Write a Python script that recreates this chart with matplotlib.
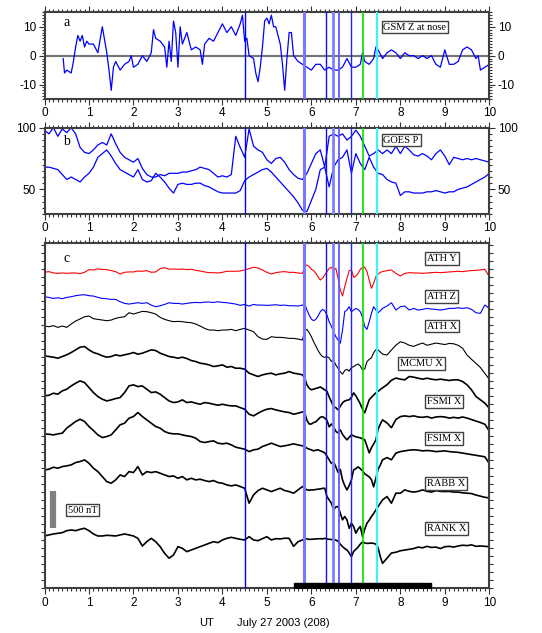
import numpy as np
import matplotlib
matplotlib.use("Agg")
import matplotlib.pyplot as plt
from matplotlib.ticker import MultipleLocator

plt.rcParams['font.family'] = ['Liberation Sans', 'DejaVu Sans']
plt.rcParams['axes.unicode_minus'] = False
SERIF = 'Liberation Serif'

# ---------------- panel a : GSM Z at nose
t_imf = [0.42, 0.45, 0.5, 0.6, 0.65, 0.7, 0.75, 0.8, 0.85, 0.9, 0.95, 1.0, 1.1, 1.2, 1.3, 1.4, 1.45,
         1.5, 1.55, 1.6, 1.7, 1.8, 1.9, 1.95, 2.0, 2.1, 2.2, 2.3, 2.4, 2.45, 2.5, 2.6, 2.7, 2.75,
         2.8, 2.85, 2.9, 2.95, 3.0, 3.05, 3.1, 3.2, 3.3, 3.4, 3.5, 3.55, 3.6, 3.7, 3.8, 3.9, 4.0,
         4.1, 4.2, 4.3, 4.4, 4.45, 4.5, 4.55, 4.6, 4.7, 4.75, 4.8, 4.85, 4.9, 4.95, 5.0, 5.05, 5.1,
         5.15, 5.2, 5.3, 5.35, 5.4, 5.45, 5.5, 5.55, 5.6, 5.7, 5.8, 5.9, 6.0, 6.1, 6.2, 6.3, 6.4,
         6.5, 6.6, 6.7, 6.8, 6.9, 7.0, 7.1, 7.15, 7.2, 7.3, 7.4, 7.45, 7.5, 7.6, 7.7, 7.8, 7.9,
         8.0, 8.1, 8.2, 8.3, 8.4, 8.5, 8.6, 8.7, 8.8, 8.9, 9.0, 9.1, 9.2, 9.3, 9.4, 9.5, 9.6,
         9.7, 9.75, 9.8, 9.9, 10.0]
bz_imf = [-1, -6, -5, -6, -2, 3, 7, 5, 7, 3, 5, 4, 4, 1, 10, 1, -5,
          -12, -4, -2, -5, -3, -2, 0, -4, -3, 0, -2, 1, 9, 6, 5, 3, -4,
          5, -2, 12, 8, -4, 10, 4, 8, 2, 3, 2, -3, 4, 6, 5, 8, 11,
          8, 10, 7, 11, 14, 5, 6, 0, -1, -6, -9, -4, 3, 12, 13, 11, 14,
          10, 10, 4, -3, -12, -1, 8, 8, 0, -2, -3, -4, -5, -3, -3, -5, -4,
          -5, -5, -4, -1, -4, -4, -3, 1, -2, -3, -1, 3, 2, -1, 1, 2, 1,
          -1, 1, 0, 0, -1, 0, -1, 0, -3, -4, 2, -3, -3, -2, 2, 3, 2,
          -1, 0, -5, -4, -3]

# ---------------- panel b : GOES P (two spacecraft)
t_goes = np.linspace(0, 10, 101)
goes_p1 = [98, 95, 100, 93, 99, 96, 100, 95, 84, 80,
           79, 82, 86, 88, 86, 95, 87, 80, 76, 74,
           72, 75, 67, 62, 60, 60, 62, 61, 63, 63,
           63, 64, 64, 65, 66, 68, 67, 66, 63, 60,
           61, 60, 62, 93, 84, 76, 99, 85, 82, 80,
           74, 71, 75, 76, 72, 66, 62, 59, 58, 63,
           71, 79, 82, 68, 93, 95, 93, 95, 90, 93,
           98, 93, 85, 77, 79, 82, 79, 82, 79, 85,
           79, 85, 82, 78, 77, 79, 77, 74, 79, 82,
           77, 70, 76, 75, 74, 75, 74, 75, 74, 73, 72]
goes_p2 = [68, 68, 67, 66, 62, 58, 60, 58, 56, 60,
           63, 68, 76, 79, 82, 77, 71, 66, 64, 62,
           60, 66, 58, 56, 57, 63, 60, 56, 51, 47,
           54, 55, 54, 54, 55, 55, 53, 52, 50, 48,
           47, 47, 47, 47, 49, 57, 60, 62, 64, 66,
           67, 64, 60, 56, 52, 48, 44, 39, 33, 32,
           41, 50, 66, 68, 52, 68, 74, 76, 82, 63,
           79, 71, 66, 76, 68, 63, 62, 58, 56, 55,
           45, 48, 48, 47, 47, 47, 48, 48, 49, 48,
           47, 48, 48, 50, 51, 52, 54, 56, 58, 60, 63]

# ---------------- panel c : ground magnetometers (deviation, nT)
t_mag = np.concatenate([np.linspace(0, 5.8, 59), np.linspace(5.85, 7.6, 36),
                        np.linspace(7.7, 10.0, 24)])

ath_y = [0, 9, -9, -14, -9, -14, -9, -9, -18, 0,
         36, 32, 45, 40, 36, 23, 9, -23, 0, 5,
         5, 18, 14, 23, 0, 5, 50, 63, 41, 45,
         41, 45, 36, 41, 27, 18, 5, -5, -5, -9,
         0, 14, 14, 14, 18, 32, 50, 68, 59, 32,
         0, -23, -5, 5, 9, 0, 0, -9, -14,
         77, 99, 77, 41, 23, -14, -59, -104, -81, -36,
         9, 54, 68, 23, 54, -81, -239, -320, -194, -81,
         23, 32, -68, -50, -14, 41, 63, 68, 9, -104,
         -216, -149, -59, -23, 0, 9,
         23, 32, -14, -50, -14, -5, -9, -9, -14, -9, -5, 0,
         -5, 0, 5, 9, 14, 9, 18, 23, 27, 32, 41, -59]
ath_z = [0, -9, -23, -14, -27, -9, 0, 14, 23, 27,
         14, 9, -9, -23, -27, -36, -36, -68, -90, -99,
         -90, -81, -90, -81, -113, -135, -122, -104, -81, -90,
         -90, -99, -90, -81, -77, -81, -72, -72, -77, -68,
         -77, -81, -90, -99, -117, -104, -126, -104, -113, -113,
         -117, -113, -108, -117, -113, -122, -122, -126, -113,
         -90, -180, -248, -302, -324, -306, -261, -203, -171, -189,
         -248, -338, -400, -470, -540, -585, -630, -450, -200, -180,
         -135, -203, -180, -158, -171, -203, -279, -405, -441, -338,
         -225, -135, -180, -216, -189, -158,
         -126, -81, -180, -135, -126, -180, -158, -180, -171, -158, -167, -171,
         -180, -171, -158, -158, -149, -158, -149, -171, -216, -225, -113, -158]
ath_x = [0, -9, 5, -18, 0, -18, 27, 68, 95, 126,
         135, 99, 90, 81, 72, 81, 104, 117, 126, 180,
         162, 180, 198, 194, 180, 162, 117, 90, 72, 59,
         63, 59, 50, 45, 27, 0, -32, -54, -54, -63,
         -54, -54, -45, -63, -45, -32, -54, -77, -144, -176,
         -180, -144, -153, -153, -158, -167, -167, -176, -189,
         -63, -45, -90, -144, -212, -270, -330, -380, -414, -423,
         -414, -430, -480, -459, -527, -572, -620, -650, -600, -585,
         -610, -560, -549, -527, -513, -540, -594, -580, -482, -450,
         -430, -360, -320, -324, -350, -380,
         -392, -324, -260, -212, -230, -260, -275, -250, -230, -260, -245, -230,
         -240, -250, -235, -240, -260, -300, -392, -450, -504, -560, -640, -720]
mcmu_x = [0, -9, -18, -32, -9, 14, 45, 81, 117, 126,
          81, 45, 27, 0, -18, -9, 14, 0, 14, 27,
          45, 23, 36, 59, 81, 72, 36, 14, -9, -18,
          -32, -18, -36, -63, -77, -99, -108, -122, -144, -135,
          -122, -153, -144, -167, -167, -180, -234, -257, -279, -257,
          -243, -234, -257, -243, -234, -212, -234, -243, -257,
          -302, -392, -437, -459, -450, -440, -432, -420, -440, -459,
          -480, -554, -620, -689, -700, -729, -680, -635, -610, -600,
          -594, -560, -500, -540, -594, -650, -720, -770, -680, -594,
          -560, -530, -500, -480, -455, -432,
          -390, -330, -300, -315, -324, -279, -288, -302, -315, -302, -315, -324,
          -315, -324, -333, -324, -324, -347, -392, -459, -549, -594, -639, -707]
fsmi_x = [0, 9, 36, 23, 68, 90, 135, 171, 203, 180,
          113, 45, -9, -45, -68, -54, -36, -23, 45, 135,
          149, 126, 135, 90, 45, 54, 23, -23, -68, -90,
          -81, -54, -90, -81, -99, -113, -90, -99, -113, -126,
          -113, -126, -135, -135, -158, -180, -248, -270, -234, -203,
          -180, -171, -189, -203, -216, -225, -248, -234, -216,
          -225, -330, -380, -380, -360, -350, -320, -290, -280, -300,
          -330, -419, -380, -420, -480, -500, -459, -520, -560, -594,
          -560, -527, -540, -554, -560, -567, -580, -594, -680, -770,
          -700, -650, -594, -450, -380, -324,
          -365, -430, -320, -280, -270, -280, -270, -285, -290, -280, -300, -285,
          -280, -285, -300, -290, -300, -285, -300, -320, -340, -360, -383, -473]
fsim_x = [0, -5, -14, 0, 9, 77, 122, 167, 198, 167,
          99, 45, -14, -50, -36, -14, 54, 122, 144, 212,
          234, 288, 234, 189, 144, 99, 77, 32, 9, 0,
          0, -14, -27, -36, -59, -104, -117, -104, -95, -126,
          -135, -126, -149, -180, -194, -207, -239, -216, -207, -171,
          -149, -126, -149, -171, -162, -149, -135, -149, -162,
          -171, -194, -207, -216, -230, -220, -216, -230, -240, -257,
          -300, -351, -400, -380, -446, -520, -480, -622, -700, -757,
          -700, -620, -486, -470, -446, -470, -500, -540, -560, -581,
          -620, -716, -600, -480, -420, -351,
          -320, -351, -260, -240, -230, -220, -215, -220, -230, -225, -230, -240,
          -235, -230, -240, -245, -250, -260, -270, -280, -290, -300, -310, -400]
rabb_x = [0, 9, 36, 23, 45, 54, 68, 99, 113, 135,
          90, 23, -23, -90, -158, -180, -135, -68, -90, -23,
          -36, 45, -68, -23, -36, -23, -45, -68, -90, -81,
          -113, -90, -135, -113, -135, -126, -144, -158, -144, -171,
          -180, -203, -216, -203, -225, -248, -450, -338, -279, -248,
          -270, -293, -270, -248, -279, -293, -315, -270, -225,
          -248, -270, -275, -270, -270, -265, -260, -257, -250, -248,
          -360, -405, -450, -540, -500, -495, -585, -675, -630, -675,
          -790, -720, -765, -855, -800, -765, -900, -800, -720, -680,
          -630, -590, -540, -495, -450, -405,
          -360, -450, -315, -315, -270, -290, -300, -290, -270, -290, -300, -280,
          -290, -293, -290, -300, -300, -310, -315, -320, -340, -355, -370, -380]
rank_x = [0, 14, 27, 36, 45, 72, 81, 72, 90, 104,
          72, 27, 0, 0, 9, 5, 0, 14, 27, 14,
          0, -32, -135, -77, -32, -77, -144, -234, -300, -257,
          -144, -167, -212, -189, -167, -144, -122, -99, -77, -90,
          -54, -32, -18, -32, -45, -54, -9, -54, -63, -36,
          -9, -54, -36, -40, -30, -32, -140, -77, -54,
          -36, -40, -45, -45, -42, -40, -38, -36, -40, -32,
          -40, -45, -48, -45, -55, -72, -110, -144, -170, -189,
          -230, -280, -210, -180, -150, -110, -80, -95, -100, -99,
          -95, -100, -110, -160, -280, -370,
          -300, -230, -220, -200, -190, -180, -170, -150, -160, -140, -155, -150,
          -170, -145, -140, -150, -135, -125, -130, -120, -140, -135, -140, -145]

stations = ['ATH Y', 'ATH Z', 'ATH X', 'MCMU X', 'FSMI X', 'FSIM X', 'RABB X', 'RANK X']
traces = [ath_y, ath_z, ath_x, mcmu_x, fsmi_x, fsim_x, rabb_x, rank_x]
offsets = [4270, 3940, 3544, 3141, 2600, 2087, 1600, 707]
colors = ['red', 'blue', 'black', 'black', 'black', 'black', 'black', 'black']
widths = [0.8, 0.8, 0.8, 1.2, 1.2, 1.2, 1.2, 1.2]
label_x = [8.6, 8.6, 8.6, 8.0, 8.6, 8.6, 8.6, 8.6]
label_y = [4458, 3940, 3544, 3040, 2521, 2027, 1418, 811]

# event lines
event_t = [4.5, 5.84, 6.33, 6.48, 6.62, 6.9, 7.17, 7.47]
event_c = ['#0000ff', '#7878ff', '#1010ff', '#8080ff', '#5a5aff', '#2020ff', '#00e000', '#3ff0ff']
event_w = [1.0, 2.2, 1.0, 2.0, 1.3, 1.0, 1.2, 1.6]

interval = (5.6, 8.7)
scale_nt = 500

fig = plt.figure(figsize=(5.42, 6.33), dpi=100)
W, H = 542.0, 633.0
left, width = 44.5 / W, 444.8 / W
ax_a = fig.add_axes([left, 1 - 99 / H, width, 86.7 / H])
ax_b = fig.add_axes([left, 1 - 214 / H, width, 86.3 / H])
ax_c = fig.add_axes([left, 1 - 588.3 / H, width, 345 / H])

box = dict(boxstyle='square,pad=0.18', fc='white', ec='0.25', lw=1.0)


def style(ax):
    ax.set_xlim(0, 10)
    ax.xaxis.set_major_locator(MultipleLocator(1))
    ax.xaxis.set_minor_locator(MultipleLocator(0.1))
    ax.tick_params(which='both', direction='out', top=True, right=True, width=0.8,
                   labelsize=8.5, pad=2, color='0.2')
    ax.tick_params(which='major', length=4)
    ax.tick_params(which='minor', length=2.5)
    for s in ax.spines.values():
        s.set_linewidth(1.5)
        s.set_color('0.25')
    for t, c, w in zip(event_t, event_c, event_w):
        ax.axvline(t, color=c, lw=w, zorder=3)


# panel a
ax_a.plot(t_imf, bz_imf, color='blue', lw=0.9, zorder=2)
ax_a.axhline(0, color='0.45', lw=1.5, zorder=1)
ax_a.set_ylim(-15, 15)
ax_a.set_yticks([-10, 0, 10])
ax_a.yaxis.set_minor_locator(MultipleLocator(1))
style(ax_a)
ax_a.tick_params(labelright=True)
ax_a.text(0.5, 11.4, 'a', family=SERIF, fontsize=10, va='center', ha='center')
ax_a.text(7.62, 9.9, 'GSM Z at nose', family=SERIF, fontsize=7.5, va='center', bbox=box, zorder=5)

# panel b
ax_b.plot(t_goes, goes_p1, color='blue', lw=0.9, zorder=2)
ax_b.plot(t_goes, goes_p2, color='blue', lw=0.9, zorder=2)
ax_b.set_ylim(30, 100)
ax_b.set_yticks([50, 100])
ax_b.yaxis.set_minor_locator(MultipleLocator(5))
style(ax_b)
ax_b.tick_params(labelright=True)
ax_b.text(0.5, 88.6, 'b', family=SERIF, fontsize=10, va='center', ha='center')
ax_b.text(7.62, 90, 'GOES P', family=SERIF, fontsize=7.5, va='center', bbox=box, zorder=5)

# panel c
for name, dev, off, c, w, lx, ly in zip(stations, traces, offsets, colors, widths, label_x, label_y):
    ax_c.plot(t_mag, off + np.array(dev), color=c, lw=w, zorder=2)
    ax_c.text(lx, ly, name, family=SERIF, fontsize=7.5, va='center', bbox=box, zorder=5)
ax_c.set_ylim(0, 4662)
ax_c.set_yticks([])
ax_c.yaxis.set_minor_locator(MultipleLocator(108))
style(ax_c)
ax_c.tick_params(axis='y', which='minor', length=3)
ax_c.text(0.5, 4458, 'c', family=SERIF, fontsize=10, va='center', ha='center')
ax_c.vlines(0.2, 811, 811 + scale_nt, color='0.5', lw=4.5, zorder=4)
ax_c.text(0.52, 1058, '%d nT' % scale_nt, family=SERIF, fontsize=7.5, va='center', bbox=box, zorder=5)
ax_c.broken_barh([(interval[0], interval[1] - interval[0])], (0, 70), color='black', zorder=4)

fig.text(207 / W, 1 - 623 / H, 'UT', fontsize=8, ha='center', va='center')
fig.text(237 / W, 1 - 623 / H, 'July 27 2003 (208)', fontsize=8, ha='left', va='center')

fig.savefig('out.png', dpi=100)
